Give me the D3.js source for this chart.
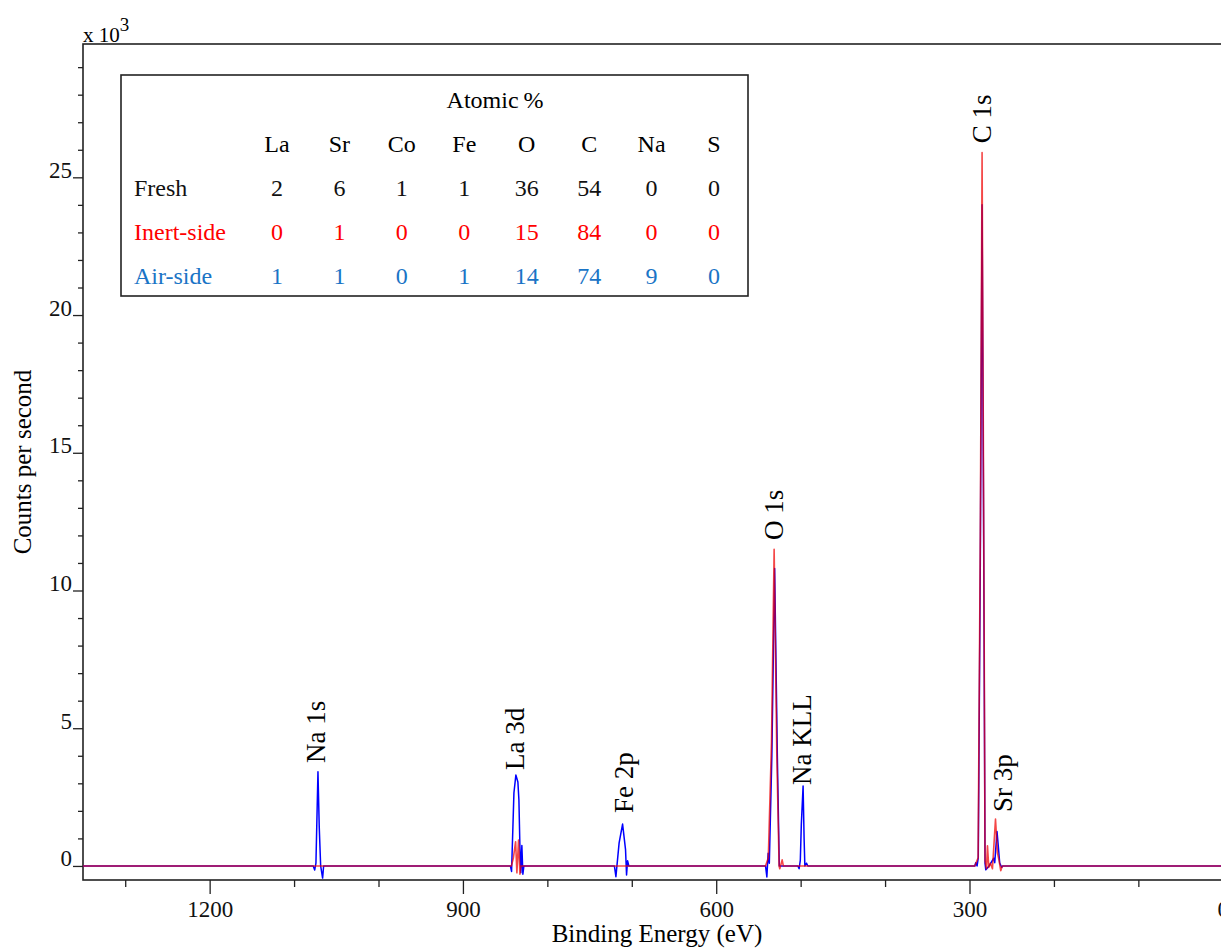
<!DOCTYPE html>
<html>
<head>
<meta charset="utf-8">
<script src="https://cdn.jsdelivr.net/npm/d3@7"></script>
<style>
  body { margin: 0; background: #fff; overflow: hidden; }
  svg, svg text { font-family: "Liberation Serif", "Times New Roman", serif; }
</style>
</head>
<body>
<div id="chart"></div>
<script>
// XPS survey spectra, [binding energy (eV), counts (x 10^3 cps)]
const airSide = [
  [1350, 0],
  [1077.3, 0], [1075.6, -0.15], [1074.1, 0.1], [1071.7, 3.42], [1070.2, 1.42], [1068.5, 0], [1066.2, -0.44], [1065, 0],
  [843.8, 0], [842.4, -0.2], [840.8, 1.42], [839.6, 2.65], [837.3, 3.3], [834.9, 3.05], [833.7, 2.4], [832.5, 0.7],
  [831.4, -0.25], [830.2, 0.74], [829, -0.3], [827.8, 0],
  [720.6, 0], [718.8, -0.39], [715, 0.84], [710.9, 1.52], [707.4, 0.59], [706.2, -0.33], [705, 0.19], [703.5, 0],
  [541.6, 0], [540, -0.4], [538.5, 0.46], [537.1, 0.1], [534.1, 4], [530.8, 10.8], [527.6, 4], [525.3, 0],
  [503.3, 0], [501.8, -0.1], [500.4, 0.2], [499.2, 1.5], [497.1, 2.9], [495.9, 1.0], [495, 0], [493, 0.1], [491.5, 0],
  [293.7, 0], [292.6, 0.12], [291, 0], [289.6, 0.3], [287.2, 11], [285.1, 24], [283.1, 11], [281.6, 0.1],
  [280.7, -0.14], [276.8, 0], [271.3, 0.28], [270.1, 0.12], [267.4, 1.25], [266.2, 0.83], [264.2, 0.1],
  [261.8, -0.05], [260.6, 0],
  [-50, 0]
];

const inertSide = [
  [1350, 0],
  [842.6, 0], [840.2, 0.3], [837.6, 0.88], [836.1, -0.25], [834.1, 0.94], [832.5, -0.3], [831.4, 0],
  [541.6, 0], [538.3, 0.3], [534.5, 4.5], [531.4, 11.5], [528.2, 4], [525.5, 0], [524.7, -0.1], [521.9, 0.22], [520.5, 0],
  [293.7, 0], [289.8, 0.3], [287.2, 12], [285.1, 25.9], [283.1, 12], [281.6, 0.2], [279.9, -0.1], [278.7, 0.73],
  [277.2, -0.05], [275.2, 0.1], [272.8, -0.1], [269.2, 1.7], [266.9, 0.48], [265, 0.2], [263, -0.17], [261.2, 0],
  [-50, 0]
];

// peak labels: name, energy, counts where the label starts
const peakNames = ["Na 1s", "La 3d", "Fe 2p", "O 1s", "Na KLL", "C 1s", "Sr 3p"];
const peakEnergy = [1074.1, 838.5, 709.4, 531.8, 498, 284.9, 260];
const peakLabelAt = [3.74, 3.48, 1.92, 11.83, 2.94, 26.24, 1.96];

// atomic % table
const elements = ["La", "Sr", "Co", "Fe", "O", "C", "Na", "S"];
const samples = ["Fresh", "Inert-side", "Air-side"];
const freshPct = [2, 6, 1, 1, 36, 54, 0, 0];
const inertPct = [0, 1, 0, 0, 15, 84, 0, 0];
const airPct = [1, 1, 0, 1, 14, 74, 9, 0];

const xMajorTicks = [1200, 900, 600, 300, 0];
const yMajorTicks = [0, 5, 10, 15, 20, 25];

const W = 1221, H = 949;
const plot = {left: 83, top: 44, bottom: 880, right: 1265};
const serif = "'Liberation Serif', 'Times New Roman', serif";

const svg = d3.select("#chart").append("svg")
    .attr("width", W)
    .attr("height", H)
    .style("font-family", serif);

// scales
const x = d3.scaleLinear().domain([1350, -50]).range([plot.left, plot.right]);
const y = d3.scaleLinear().domain([-0.51, 29.84]).range([plot.bottom, plot.top]);

// frame
svg.append("rect")
    .attr("x", plot.left).attr("y", plot.top)
    .attr("width", plot.right - plot.left).attr("height", plot.bottom - plot.top)
    .attr("fill", "none").attr("stroke", "#222").attr("stroke-width", 1.6);

// x axis: minor every 100 eV, labels every 300 eV
const xMinor = d3.range(1300, -1, -100).filter(d => !xMajorTicks.includes(d));
const xAxisMinor = d3.axisBottom(x).tickValues(xMinor).tickSize(7).tickFormat("");
const xAxisMajor = d3.axisBottom(x).tickValues(xMajorTicks).tickSize(14).tickPadding(7).tickFormat(d3.format("d"));

svg.append("g").attr("transform", `translate(0,${plot.bottom})`).call(xAxisMinor);
svg.append("g").attr("transform", `translate(0,${plot.bottom})`).call(xAxisMajor);

// y axis: minor every 1k
const yMinor = d3.range(1, 30).filter(d => !yMajorTicks.includes(d));
const yAxisMinor = d3.axisLeft(y).tickValues(yMinor).tickSize(5).tickFormat("");
const yAxisMajor = d3.axisLeft(y).tickValues(yMajorTicks).tickSize(10).tickPadding(1).tickFormat(d3.format("d"));

svg.append("g").attr("transform", `translate(${plot.left},0)`).call(yAxisMinor);
const yg = svg.append("g").attr("transform", `translate(${plot.left},0)`).call(yAxisMajor);
yg.selectAll("text").attr("dy", "0").attr("x", -11);

svg.selectAll(".domain").remove();
svg.selectAll(".tick line").attr("stroke", "#222").attr("stroke-width", 1.3);
svg.selectAll(".tick text")
    .attr("fill", "#111")
    .attr("font-family", serif)
    .attr("font-size", 23);

// axis titles
svg.append("text")
    .attr("x", 657).attr("y", 942)
    .attr("text-anchor", "middle")
    .style("font-size", "25px")
    .text("Binding Energy (eV)");

svg.append("text")
    .attr("transform", "translate(31,462) rotate(-90)")
    .attr("text-anchor", "middle")
    .style("font-size", "25px")
    .text("Counts per second");

const mult = svg.append("text")
    .attr("x", plot.left).attr("y", 42)
    .style("font-size", "21px");
mult.append("tspan").text("x 10");
mult.append("tspan").attr("dy", -11).style("font-size", "19px").text("3");

// spectra
const line = d3.line()
    .x(d => x(d[0]))
    .y(d => y(d[1]));

svg.append("path")
    .datum(airSide)
    .attr("d", line)
    .attr("fill", "none")
    .attr("stroke", "#0000ff")
    .attr("stroke-width", 1.5)
    .attr("stroke-linejoin", "round");

svg.append("path")
    .datum(inertSide)
    .attr("d", line)
    .attr("fill", "none")
    .attr("stroke", "#f00000")
    .attr("stroke-opacity", 0.72)
    .attr("stroke-width", 1.6)
    .attr("stroke-linejoin", "round");

// peak labels
svg.append("g")
    .selectAll("text")
    .data(peakNames)
    .enter()
    .append("text")
    .attr("transform", (d, i) => `translate(${x(peakEnergy[i])},${y(peakLabelAt[i])}) rotate(-90)`)
    .attr("dy", "0.33em")
    .style("font-size", "27px")
    .text(d => d);

// atomic % table
const tbl = {x: 121, y: 75, w: 627, h: 221};
svg.append("rect")
    .attr("x", tbl.x).attr("y", tbl.y)
    .attr("width", tbl.w).attr("height", tbl.h)
    .attr("fill", "#fff").attr("stroke", "#222").attr("stroke-width", 1.6);

const colX = d3.scalePoint().domain(elements).range([277, 714]);
const rowY = d3.scalePoint().domain(["head"].concat(samples)).range([152, 284]);
const rowColors = {"Fresh": "#111", "Inert-side": "#ff0000", "Air-side": "#1a74c6"};
const rowValues = {"Fresh": freshPct, "Inert-side": inertPct, "Air-side": airPct};

const tg = svg.append("g").style("font-size", "24px");
tg.append("text")
    .attr("x", 495).attr("y", 108)
    .attr("text-anchor", "middle")
    .text("Atomic\u2009%");

tg.selectAll(".colHead")
    .data(elements)
    .enter().append("text")
    .attr("class", "colHead")
    .attr("x", d => colX(d)).attr("y", rowY("head"))
    .attr("text-anchor", "middle")
    .text(d => d);

samples.forEach(s => {
    tg.append("text")
        .attr("x", 134).attr("y", rowY(s))
        .attr("fill", rowColors[s])
        .text(s);
    tg.selectAll(null)
        .data(rowValues[s])
        .enter().append("text")
        .attr("x", (d, i) => colX(elements[i])).attr("y", rowY(s))
        .attr("text-anchor", "middle")
        .attr("fill", rowColors[s])
        .text(d => d);
});
</script>
</body>
</html>
